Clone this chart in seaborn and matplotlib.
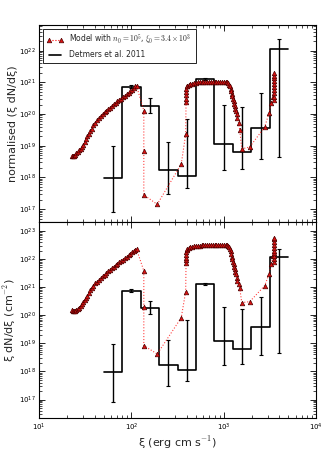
import numpy as np
import pandas as pd
import matplotlib
matplotlib.use("Agg")
import matplotlib.pyplot as plt
import matplotlib.ticker as mticker
from matplotlib.lines import Line2D
import seaborn as sns

# ---------------- data ----------------
# Detmers et al. 2011 binned distribution
bin_edges = [50.1, 79.4, 125.9, 199.5, 316.2, 501.2, 794.3, 1259.0, 1995.0, 3162.0, 5012.0]
bin_centres = [63.1, 100.0, 158.5, 251.2, 398.1, 631.0, 1000.0, 1585.0, 2512.0, 3981.0]
det_values = [9.3e17, 7.4e20, 1.8e20, 1.75e18, 1.1e18, 1.28e21, 1.17e19, 6.4e18, 3.7e19, 1.13e22]
det_err_hi = [9.5e18, 8.3e20, 3.2e20, 1.35e19, 6.9e19, 1.4e21, 1.9e20, 1.66e20, 4.6e20, 2.35e22]
det_err_lo = [8.0e16, 6.6e20, 1.1e20, 3.0e17, 4.5e17, 1.15e21, 1.75e18, 1.85e18, 3.7e18, 4.4e18]

# Model (log10 values)
log_xi_model = [
    1.355, 1.365, 1.375, 1.39, 1.405, 1.42, 1.435, 1.45, 1.465, 1.48, 1.495, 1.51, 1.525,
    1.54, 1.555, 1.57, 1.59, 1.61, 1.63, 1.65, 1.67, 1.69, 1.71, 1.73, 1.75, 1.77, 1.79,
    1.81, 1.83, 1.85, 1.87, 1.89, 1.91, 1.93, 1.95, 1.97, 1.99, 2.01, 2.03, 2.045, 2.056,
    2.135, 2.135, 2.135, 2.28, 2.54, 2.588,
    2.592, 2.592, 2.593, 2.594, 2.595, 2.597,
    2.60, 2.62, 2.64, 2.66, 2.68, 2.70, 2.72, 2.74, 2.76, 2.78, 2.80, 2.82, 2.84, 2.86,
    2.88, 2.90, 2.92, 2.94, 2.96, 2.98, 3.00, 3.02, 3.035, 3.05, 3.06, 3.07,
    3.077, 3.083, 3.089, 3.094, 3.101, 3.108, 3.114, 3.119, 3.125, 3.130, 3.139, 3.148,
    3.160, 3.173, 3.195, 3.281, 3.443, 3.490, 3.516, 3.533,
    3.545, 3.545, 3.546, 3.546, 3.547, 3.547, 3.548, 3.548, 3.549, 3.549,
]
log_norm_model = [
    18.69, 18.67, 18.68, 18.71, 18.76, 18.81, 18.85, 18.90, 18.96, 19.03, 19.11, 19.21, 19.30,
    19.38, 19.47, 19.54, 19.64, 19.73, 19.80, 19.87, 19.94, 19.99, 20.05, 20.10, 20.15, 20.20, 20.26,
    20.31, 20.35, 20.40, 20.45, 20.49, 20.54, 20.58, 20.63, 20.67, 20.72, 20.77, 20.83, 20.87, 20.89,
    20.11, 18.84, 17.45, 17.15, 18.42, 19.36,
    20.39, 20.49, 20.59, 20.69, 20.79, 20.87,
    20.90, 20.93, 20.95, 20.96, 20.98, 20.99, 21.00, 21.00, 21.01, 21.01, 21.01, 21.02, 21.02, 21.02,
    21.02, 21.02, 21.02, 21.02, 21.02, 21.02, 21.02, 21.01, 21.00, 20.97, 20.93, 20.88,
    20.80, 20.72, 20.64, 20.57, 20.48, 20.40, 20.32, 20.25, 20.17, 20.10, 19.99, 19.88,
    19.72, 19.50, 18.90, 18.96, 19.59, 20.03, 20.34, 20.55,
    20.45, 20.55, 20.65, 20.75, 20.85, 20.95, 21.05, 21.13, 21.21, 21.29,
]
log_flux_model = [
    20.17, 20.15, 20.15, 20.16, 20.18, 20.22, 20.27, 20.33, 20.39, 20.46, 20.53, 20.61, 20.69,
    20.78, 20.88, 20.95, 21.05, 21.13, 21.19, 21.26, 21.32, 21.38, 21.44, 21.50, 21.56, 21.62, 21.67,
    21.73, 21.78, 21.83, 21.88, 21.93, 21.98, 22.03, 22.08, 22.13, 22.18, 22.24, 22.29, 22.33, 22.35,
    21.58, 20.28, 18.92, 18.62, 19.91, 20.84,
    21.84, 21.95, 22.05, 22.15, 22.25, 22.33,
    22.37, 22.40, 22.42, 22.43, 22.45, 22.46, 22.47, 22.47, 22.48, 22.48, 22.49, 22.49, 22.49, 22.50,
    22.50, 22.50, 22.50, 22.50, 22.50, 22.50, 22.50, 22.49, 22.48, 22.46, 22.42, 22.36,
    22.27, 22.17, 22.08, 22.00, 21.91, 21.82, 21.73, 21.64, 21.55, 21.46, 21.34, 21.22,
    21.10, 20.97, 20.45, 20.48, 21.05, 21.46, 21.82, 22.11,
    21.90, 22.00, 22.10, 22.20, 22.30, 22.40, 22.50, 22.60, 22.70, 22.76,
]

x_ticks = [1e1, 1e2, 1e3, 1e4]
top_y_ticks = [1e17, 1e18, 1e19, 1e20, 1e21, 1e22]
bottom_y_ticks = [1e17, 1e18, 1e19, 1e20, 1e21, 1e22, 1e23]

model_label = r"Model with $n_0=10^5$, $\xi_0=3.4\times10^3$"
det_label = "Detmers et al. 2011"

# ---------------- style ----------------
sns.set_theme(style="ticks")
plt.rcParams["font.family"] = ["DejaVu Sans"]
plt.rcParams.update({
    "mathtext.fontset": "cm",
    "xtick.direction": "in", "ytick.direction": "in",
    "xtick.top": True, "ytick.right": True,
    "xtick.labelsize": 5, "ytick.labelsize": 5,
    "xtick.major.size": 4, "ytick.major.size": 4,
    "xtick.minor.size": 2, "ytick.minor.size": 2,
    "xtick.major.width": 0.6, "ytick.major.width": 0.6,
    "xtick.minor.width": 0.5, "ytick.minor.width": 0.5,
    "xtick.major.pad": 2.5, "ytick.major.pad": 2.5,
    "axes.linewidth": 0.8, "axes.edgecolor": "black",
    "xtick.color": "black", "ytick.color": "black",
})

fig = plt.figure(figsize=(3.3, 4.53), dpi=100)
ax1 = fig.add_axes([0.118, 0.509, 0.840, 0.436])
ax2 = fig.add_axes([0.118, 0.0773, 0.840, 0.4317], sharex=ax1)

xi_model = np.power(10.0, log_xi_model)
step_x = bin_edges
step_y = det_values + [det_values[-1]]
err = np.array([np.array(det_values) - np.array(det_err_lo),
                np.array(det_err_hi) - np.array(det_values)])

for ax, logy in ((ax1, log_norm_model), (ax2, log_flux_model)):
    dfm = pd.DataFrame({"xi": xi_model, "y": np.power(10.0, logy)})
    sns.lineplot(data=dfm, x="xi", y="y", ax=ax, sort=False, estimator=None,
                 color="red", linestyle=":", linewidth=0.8, alpha=0.75, zorder=3)
    ax.plot(dfm["xi"], dfm["y"], linestyle="none", marker="^", markersize=3.3,
            markerfacecolor="#dd1111", markeredgecolor="#4a0000", markeredgewidth=0.5,
            zorder=4)
    dfd = pd.DataFrame({"xi": step_x, "y": step_y})
    sns.lineplot(data=dfd, x="xi", y="y", ax=ax, sort=False, estimator=None,
                 drawstyle="steps-post", color="black", linewidth=1.2, zorder=2)
    ax.errorbar(bin_centres, det_values, yerr=err, fmt="none", ecolor="black",
                elinewidth=1.0, capsize=1.5, capthick=0.8, zorder=2)
    ax.set_xscale("log")
    ax.set_yscale("log")
    ax.set_xlabel("")
    ax.set_ylabel("")

for ax in (ax1, ax2):
    ax.xaxis.set_minor_locator(mticker.LogLocator(base=10, subs=np.arange(2, 10), numticks=20))
    ax.xaxis.set_minor_formatter(mticker.NullFormatter())
    ax.yaxis.set_minor_locator(mticker.LogLocator(base=10, subs=np.arange(2, 10), numticks=20))
    ax.yaxis.set_minor_formatter(mticker.NullFormatter())

ax2.set_xticks(x_ticks)
ax1.set_yticks(top_y_ticks)
ax2.set_yticks(bottom_y_ticks)
ax1.set_xlim(10, 1e4)
ax1.set_ylim(3.8e16, 6.5e22)
ax2.set_ylim(2.2e16, 2.0e23)
ax1.tick_params(labelbottom=False)
ax1.set_ylabel("normalised (ξ dN/dξ)", fontsize=8)
ax2.set_ylabel("ξ dN/dξ (cm$^{-2}$)", fontsize=8)
ax2.set_xlabel("ξ (erg cm s$^{-1}$)", fontsize=8, labelpad=1)
ax1.yaxis.set_label_coords(-0.075, 0.5)
ax2.yaxis.set_label_coords(-0.075, 0.5)

handles = [
    Line2D([], [], color="red", linestyle=":", linewidth=0.8, marker="^", markersize=3.3,
           markerfacecolor="#dd1111", markeredgecolor="#4a0000", markeredgewidth=0.5),
    Line2D([], [], color="black", linewidth=1.2),
]
leg = ax1.legend(handles, [model_label, det_label], loc="upper left", fontsize=5.5,
                 numpoints=2, frameon=True, fancybox=False, edgecolor="black",
                 framealpha=1, borderpad=0.5, handlelength=2.2, labelspacing=0.5)
leg.get_frame().set_linewidth(0.6)

fig.savefig("out.png", dpi=100)
